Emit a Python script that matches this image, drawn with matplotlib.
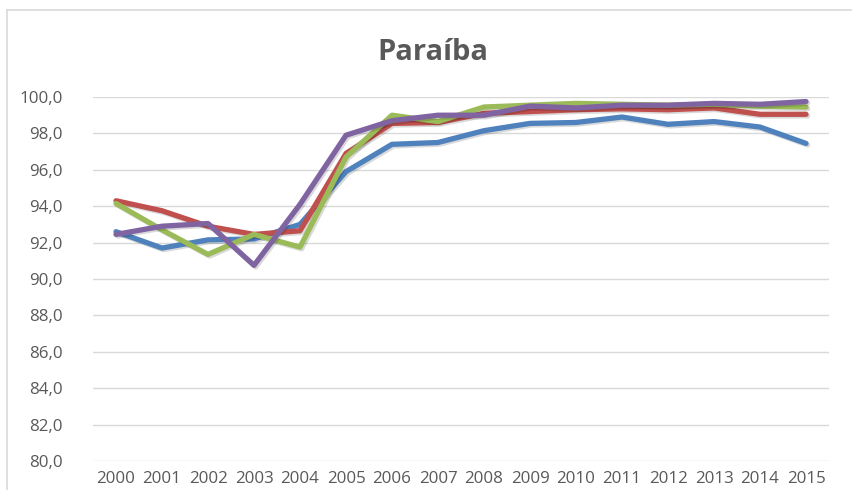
import matplotlib
matplotlib.use("Agg")
import matplotlib.pyplot as plt
import matplotlib.patheffects as pe
from matplotlib.lines import Line2D

# -----------------------------
# Data
# -----------------------------
years = list(range(2000, 2016))
serie_azul = [92.6, 91.7, 92.15, 92.2, 93.0, 95.9, 97.4, 97.5, 98.15, 98.55,
              98.6, 98.9, 98.5, 98.65, 98.35, 97.45]
serie_vermelha = [94.3, 93.75, 92.9, 92.45, 92.65, 96.9, 98.55, 98.6, 99.1, 99.2,
                  99.3, 99.35, 99.3, 99.4, 99.05, 99.05]
serie_verde = [94.15, 92.7, 91.35, 92.45, 91.75, 96.7, 99.0, 98.65, 99.45, 99.55,
               99.65, 99.6, 99.55, 99.6, 99.5, 99.45]
serie_roxa = [92.45, 92.9, 93.05, 90.75, 94.1, 97.9, 98.7, 99.0, 99.0, 99.5,
              99.4, 99.55, 99.55, 99.65, 99.6, 99.75]
y_ticks = [80, 82, 84, 86, 88, 90, 92, 94, 96, 98, 100]

series = [
    (serie_azul, "#4F81BD"),
    (serie_vermelha, "#C0504D"),
    (serie_verde, "#9BBB59"),
    (serie_roxa, "#8064A2"),
]

plt.rcParams["font.family"] = ["Open Sans", "DejaVu Sans"]

W, H = 852, 490
fig = plt.figure(figsize=(W / 100, H / 100), dpi=100)
ax = fig.add_axes([93 / W, 1 - 461 / H, (829 - 93) / W, (461 - 97) / H])

# chart border (cut off on right and bottom)
fig.add_artist(Line2D([7 / W, 7 / W], [0, 1 - 10 / H], color="#d9d9d9", lw=1.2))
fig.add_artist(Line2D([7 / W, 1], [1 - 10 / H, 1 - 10 / H], color="#d9d9d9", lw=1.2))

for values, color in series:
    ax.plot(years, values, color=color, lw=3.8, solid_capstyle="round",
            solid_joinstyle="round",
            path_effects=[pe.SimpleLineShadow(offset=(1.2, -1.2), alpha=0.15),
                          pe.Normal()])

ax.set_xlim(1999.5, 2015.5)
ax.set_ylim(80, 100)
ax.set_yticks(y_ticks)
ax.set_yticklabels([f"{v:.1f}".replace(".", ",") for v in y_ticks])
ax.set_xticks(years)
ax.set_xticklabels([str(y) for y in years])
ax.grid(axis="y", color="#d9d9d9", lw=1)
ax.set_axisbelow(True)
for s in ax.spines.values():
    s.set_visible(False)
ax.tick_params(length=0, labelsize=12.2, colors="#595959")
ax.tick_params(axis="y", pad=22)
ax.tick_params(axis="x", pad=7)

fig.text(433 / W, 1 - 52 / H, "Paraíba", ha="center", va="center",
         fontsize=21, fontweight="bold", color="#595959")

fig.savefig("out.png", dpi=100)
